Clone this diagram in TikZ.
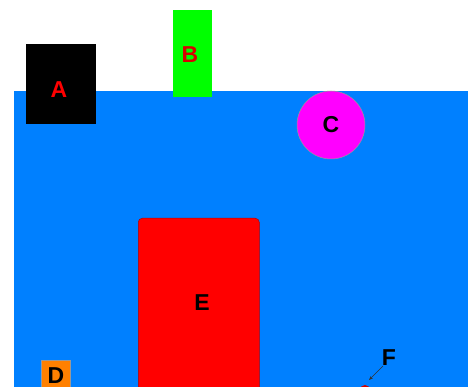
\documentclass[tikz,border=0pt]{standalone}
\usepackage{fontspec}
\setmainfont{Liberation Sans}
\usetikzlibrary{arrows.meta}
\definecolor{water}{HTML}{0080FF}
\definecolor{orangeD}{HTML}{FF8000}
\definecolor{magentaC}{HTML}{FF00FF}
\tikzset{
  lbl/.style={font=\fontsize{23}{23}\selectfont\bfseries, inner sep=0pt},
  obj/.style={draw=gray!80, line width=0.5pt},
}
\begin{document}
\begin{tikzpicture}[x=1pt,y=-1pt]
\useasboundingbox (0,0) rectangle (468,387);
\clip (0,0) rectangle (468,387);
% water
\fill[water] (14,91.5) rectangle (470,392);
% A
\node[fill=black, minimum width=70pt, minimum height=80pt, inner sep=0pt] (A) at (61,84) {};
\node[lbl, text=red] (Al) at (59,90) {A};
% B
\node[fill=green, minimum width=39pt, minimum height=87pt, inner sep=0pt, anchor=north west] (B) at (173,10) {};
\node[lbl, text=red!85!black] (Bl) at (190,55) {B};
% C
\node[obj, circle, fill=magentaC, minimum size=68pt, inner sep=0pt] (C) at (331,125) {};
\node[lbl, text=black] (Cl) at (C.center) {C};
% D
\node[obj, fill=orangeD, minimum width=29pt, minimum height=40pt, inner sep=0pt, anchor=north west] (D) at (41,360) {};
\node[lbl, text=black] (Dl) at (56,375.5) {D};
% E
\node[obj, draw=red!70!black, fill=red, rounded corners=4pt, minimum width=121pt, minimum height=190pt, inner sep=0pt, anchor=north west] (E) at (138,218) {};
\node[lbl, text=black] (El) at (202,303) {E};
% F
\node[lbl, text=black] (Fl) at (389,358) {F};
\node[circle, fill=red!80!black, minimum size=10pt, inner sep=0pt] (Fd) at (365,390) {};
\coordinate (Fe) at (369,380);
\draw[gray!40!black, line width=0.4pt, -{Stealth[length=4pt,width=3pt]}] (383,366) -- (Fe);
\end{tikzpicture}
\end{document}
